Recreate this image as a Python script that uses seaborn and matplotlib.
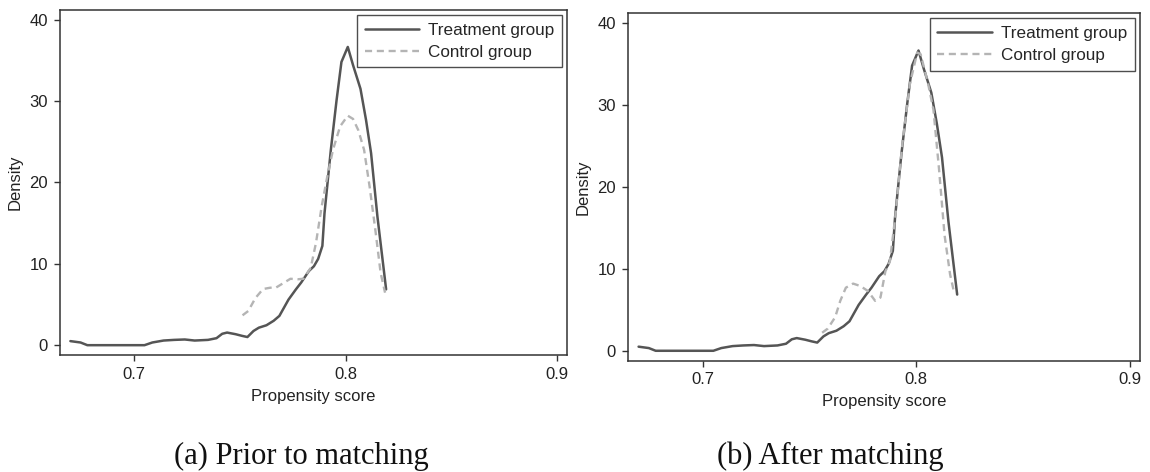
import pandas as pd
import matplotlib.pyplot as plt
import seaborn as sns

# treatment group propensity score density (same in both panels)
treat_x = [0.670, 0.6748, 0.678, 0.690, 0.705, 0.7087, 0.714, 0.719, 0.724, 0.7287,
           0.735, 0.739, 0.7417, 0.744, 0.748, 0.751, 0.7536, 0.7565, 0.759, 0.7626,
           0.766, 0.7687, 0.773, 0.7765, 0.779, 0.7826, 0.785, 0.787, 0.789, 0.790,
           0.793, 0.7957, 0.798, 0.801, 0.8035, 0.807, 0.8096, 0.812, 0.815, 0.8191]
treat_y = [0.5, 0.33, 0.0, 0.0, 0.0, 0.33, 0.57, 0.65, 0.7, 0.57,
           0.65, 0.86, 1.4, 1.55, 1.35, 1.15, 1.0, 1.75, 2.15, 2.45,
           3.0, 3.6, 5.6, 6.86, 7.7, 9.1, 9.7, 10.6, 12.2, 16.2,
           24.0, 30.1, 34.8, 36.65, 34.4, 31.5, 27.7, 23.6, 15.8, 6.86]

# control group, prior to matching
ctrl_pre_x = [0.7513, 0.754, 0.7574, 0.761, 0.7643, 0.767, 0.7704, 0.7739, 0.7774, 0.780,
              0.7835, 0.786, 0.7887, 0.7913, 0.794, 0.7974, 0.801, 0.8035, 0.806, 0.8087,
              0.8113, 0.814, 0.8165, 0.8186]
ctrl_pre_y = [3.67, 4.2, 5.8, 6.9, 7.06, 7.06, 7.6, 8.16, 8.1, 8.16,
              9.5, 12.6, 17.1, 20.7, 24.0, 26.9, 28.2, 27.8, 26.4, 24.0,
              19.5, 14.2, 8.9, 6.45]

# control group, after matching
ctrl_post_x = [0.7559, 0.7585, 0.762, 0.7644, 0.767, 0.7704, 0.7738, 0.7773, 0.7807, 0.7832,
               0.7855, 0.7876, 0.7902, 0.7935, 0.797, 0.8004, 0.802, 0.8055, 0.808, 0.8106,
               0.8132, 0.8158, 0.8175]
ctrl_post_y = [2.2, 2.7, 4.1, 6.1, 7.7, 8.2, 7.9, 7.3, 6.1, 6.5,
               9.7, 10.9, 16.5, 25.4, 32.6, 36.4, 36.2, 32.6, 29.4, 22.2,
               14.1, 9.3, 7.3]

captions = ["(a) Prior to matching", "(b) After matching"]
x_ticks = [0.7, 0.8, 0.9]
y_ticks = [0, 10, 20, 30, 40]

sns.set_style("ticks")
plt.rcParams["font.family"] = ["Liberation Sans", "DejaVu Sans"]

fig = plt.figure(figsize=(11.5, 4.72), dpi=100)
axes = [fig.add_axes([0.052, 0.248, 0.441, 0.731]),
        fig.add_axes([0.546, 0.236, 0.445, 0.736])]
controls = [(ctrl_pre_x, ctrl_pre_y), (ctrl_post_x, ctrl_post_y)]
cap_x = [0.262, 0.722]
dash = [3, 2]

for ax, (cx, cy), cap, capx in zip(axes, controls, captions, cap_x):
    sns.lineplot(x=treat_x, y=treat_y, ax=ax, color="#555555", lw=1.8,
                 sort=False, estimator=None, label="Treatment group")
    sns.lineplot(x=cx, y=cy, ax=ax, color="#b4b4b4", lw=1.7, sort=False,
                 estimator=None, label="Control group")
    ax.lines[1].set_dashes(dash)
    ax.set_xlim(0.665, 0.9045)
    ax.set_ylim(-1.2, 41.2)
    ax.set_xticks(x_ticks)
    ax.set_xticklabels(["0.7", "0.8", "0.9"])
    ax.set_yticks(y_ticks)
    ax.tick_params(labelsize=12, length=4.5, width=1, pad=4,
                   color="#333333", labelcolor="#222222")
    for s in ax.spines.values():
        s.set_visible(True)
        s.set_color("#333333")
        s.set_linewidth(1.1)
    ax.set_xlabel("Propensity score", fontsize=12, color="#222222", labelpad=5)
    ax.set_ylabel("Density", fontsize=12, color="#222222", labelpad=5)
    leg = ax.legend(loc="upper right", fontsize=12.3, frameon=True, fancybox=False,
                    handlelength=3.2, borderpad=0.45, labelspacing=0.4,
                    borderaxespad=0.3, handletextpad=0.5)
    leg.get_frame().set_edgecolor("#222222")
    leg.get_frame().set_linewidth(1.0)
    leg.get_lines()[1].set_dashes(dash)
    fig.text(capx, 1 - 456 / 472, cap, ha="center", va="center",
             family="Liberation Serif", fontsize=22, color="#111111")

fig.savefig("out.png", dpi=100)
